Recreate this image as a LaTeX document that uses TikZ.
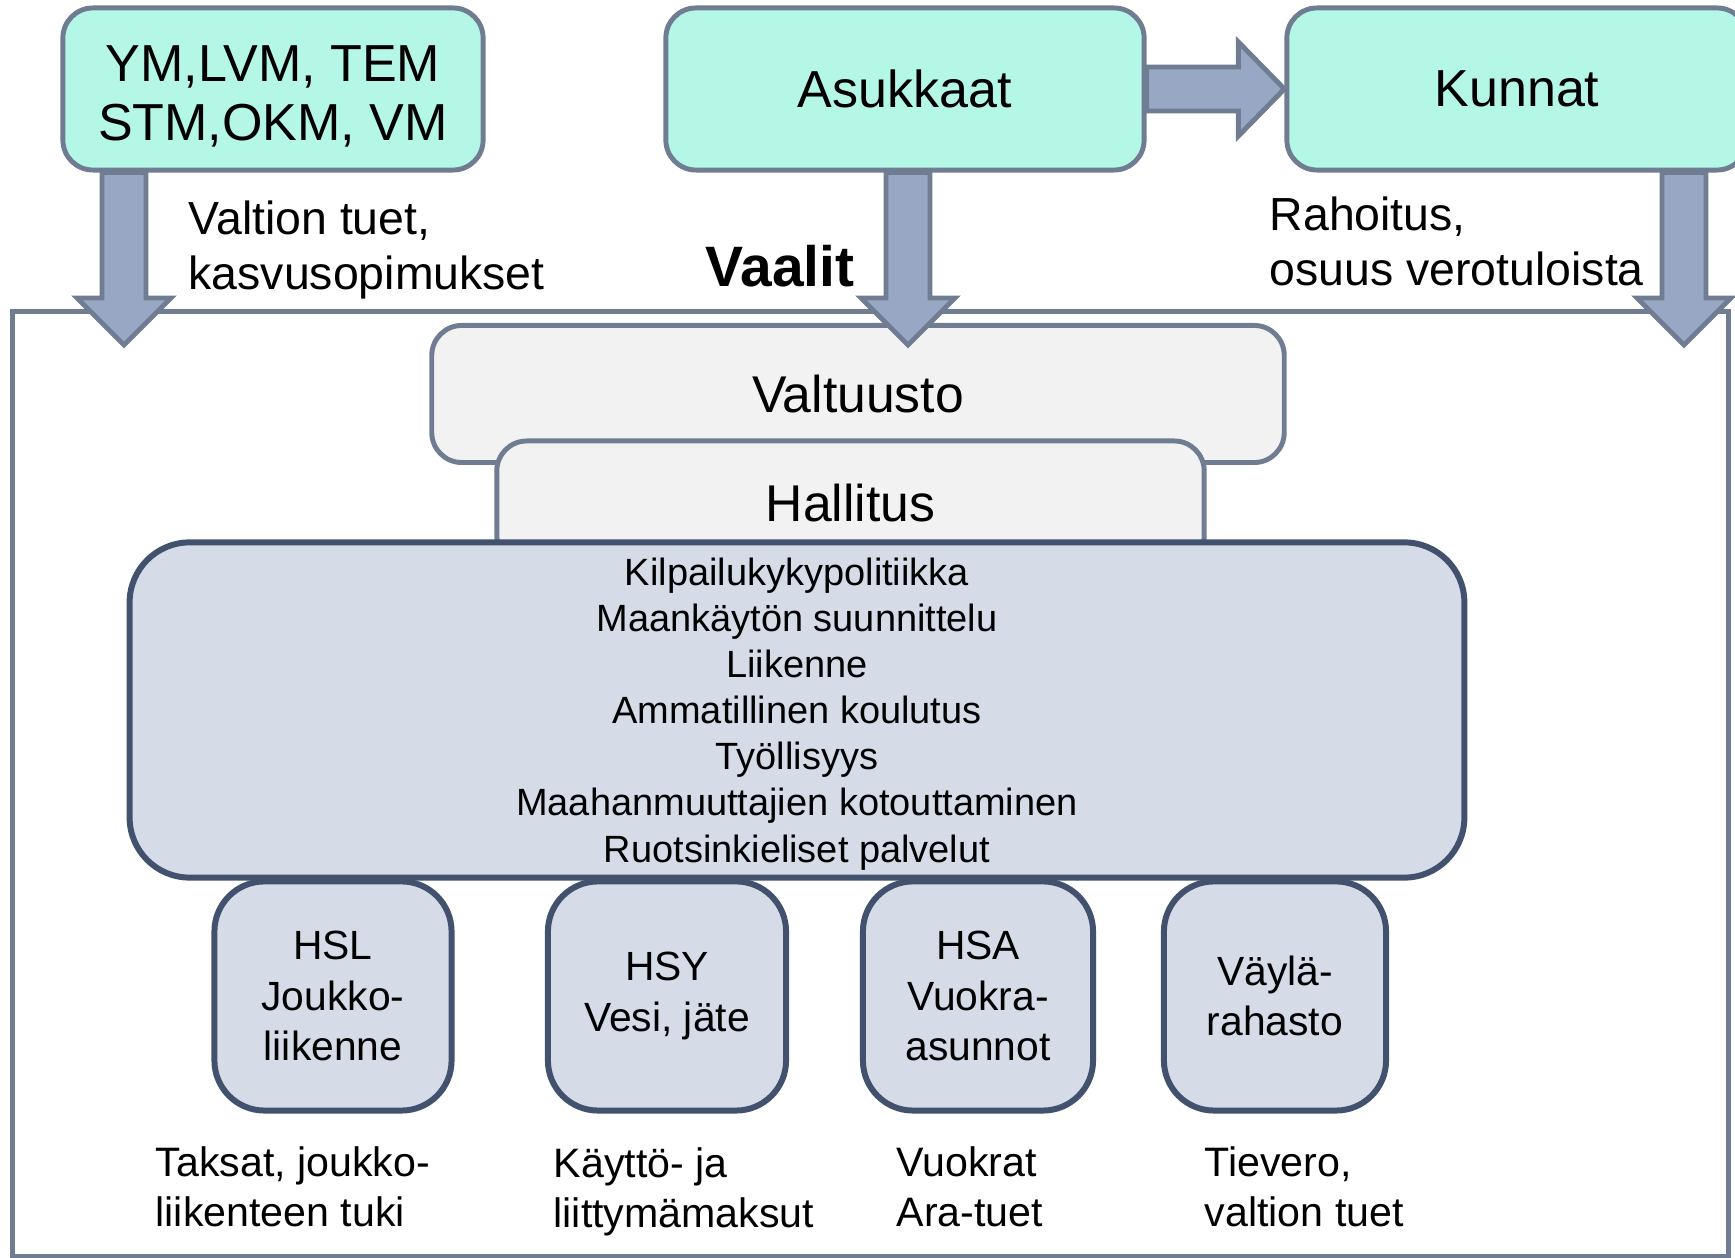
\documentclass[tikz,border=0pt]{standalone}
\usepackage{fontspec}
\setmainfont{Liberation Sans}
\usepackage{tikz}
\usetikzlibrary{calc}
\usetikzlibrary{positioning}
\definecolor{minttu}{RGB}{181,247,231}
\definecolor{rajaharmaa}{RGB}{111,124,145}
\definecolor{nuolisini}{RGB}{152,168,196}
\definecolor{vaaleaharmaa}{RGB}{242,242,242}
\definecolor{laatikkosini}{RGB}{213,220,232}
\definecolor{tummaraja}{RGB}{66,82,110}
\newcommand\nuolialas[2]{% start, tip
  ($(#1)+(-22,0)$) -- ($(#1)+(22,0)$) -- ($(#2)+(22,-47)$) -- ($(#2)+(47,-47)$)
  -- (#2) -- ($(#2)+(-47,-47)$) -- ($(#2)+(-22,-47)$) -- cycle
}
\newcommand\nuolioikealle[2]{% start, tip
  ($(#1)+(0,-22)$) -- ($(#2)+(-46,-22)$) -- ($(#2)+(-46,-47)$)
  -- (#2) -- ($(#2)+(-46,47)$) -- ($(#2)+(-46,22)$) -- ($(#1)+(0,22)$) -- cycle
}
\tikzset{
    % Define top boxes
    ylaboksi/.style={
           draw=rajaharmaa,
           line width=1.4pt,
           fill=minttu,
           rounded corners=0.3cm,
           align=center,
           inner sep=0pt,
           font=\fontsize{14.8}{16.8}\selectfont,},
    % Define council boxes
    harmaaboksi/.style={
           draw=rajaharmaa,
           line width=1.4pt,
           fill=vaaleaharmaa,
           rounded corners=0.3cm,
           inner sep=0pt,
           font=\fontsize{14.7}{17}\selectfont,},
    % Define blue boxes
    siniboksi/.style={
           draw=tummaraja,
           line width=1.7pt,
           fill=laatikkosini,
           rounded corners=0.5cm,
           align=center,
           inner sep=0pt,},
    pieniboksi/.style={
           siniboksi,
           minimum height=2.29cm,
           font=\fontsize{11.6}{14.3}\selectfont,},
    % Define block arrow
    nuoli/.style={
           draw=rajaharmaa,
           line width=1.4pt,
           fill=nuolisini,
           line join=miter,},
    teksti/.style={
           align=left,
           inner sep=0pt,
           anchor=west,}
}
\begin{document}
\begin{tikzpicture}[x=0.01cm,y=-0.01cm]
  \useasboundingbox (0,0) rectangle (1735,1258);
  \node[draw=rajaharmaa, line width=1.3pt, minimum width=17.15cm, minimum height=9.44cm, inner sep=0pt] (alue) at (870.5,784) {};
  \node[harmaaboksi, minimum width=8.52cm, minimum height=1.37cm] (valt) at (858,394) {Valtuusto};
  \node[harmaaboksi, minimum width=7.07cm, minimum height=1.24cm] (hall) at (850.5,503) {Hallitus};
  \node[siniboksi, rounded corners=0.6cm, minimum width=13.34cm, minimum height=3.35cm] (teht) at (797,710) {};
  \node[align=center, inner sep=0pt, font=\fontsize{10.8}{13.1}\selectfont] (tehtlista) at ($(teht.center)+(0,4)$)
        {Kilpailukykypolitiikka\\Maankäytön suunnittelu\\Liikenne\\Ammatillinen koulutus\\Työllisyys\\Maahanmuuttajien kotouttaminen\\Ruotsinkieliset palvelut};
  \node[pieniboksi, minimum width=2.37cm] (hsl) at (333,996) {HSL\\Joukko-\\liikenne};
  \node[pieniboksi, minimum width=2.38cm] (hsy) at (667,996) {HSY\\Vesi, jäte};
  \node[pieniboksi, minimum width=2.30cm] (hsa) at (978,996) {HSA\\Vuokra-\\asunnot};
  \node[pieniboksi, minimum width=2.22cm] (vayla) at (1275,996) {Väylä-\\rahasto};
  \node[teksti, font=\fontsize{11.7}{14.2}\selectfont] (hsltulo) at (155,1187) {Taksat, joukko-\\liikenteen tuki};
  \node[teksti, font=\fontsize{11.7}{14.2}\selectfont] (hsytulo) at (553,1191.5) {Käyttö- ja\\liittymämaksut};
  \node[teksti, font=\fontsize{11.7}{14.2}\selectfont] (hsatulo) at (896,1187) {Vuokrat\\Ara-tuet};
  \node[teksti, font=\fontsize{11.7}{14.2}\selectfont] (vaylatulo) at (1204,1187) {Tievero,\\valtion tuet};
  \node[ylaboksi, minimum width=4.2cm, minimum height=1.62cm] (ym) at (273,89) {};
  \node[align=center, inner sep=0pt, font=\fontsize{14.8}{16.8}\selectfont] (ymteksti) at ($(ym.center)+(0,7)$) {YM,LVM, TEM\\STM,OKM, VM};
  \node[ylaboksi, minimum width=4.78cm, minimum height=1.62cm] (asuk) at (905,89) {Asukkaat};
  \node[ylaboksi, minimum width=4.6cm, minimum height=1.62cm] (kunnat) at (1517,89) {Kunnat};
  \node[teksti, font=\fontsize{13.2}{15.6}\selectfont] (tuet) at (188,250) {Valtion tuet,\\kasvusopimukset};
  \node[teksti, font=\fontsize{13.2}{15.6}\selectfont] (rahoitus) at (1269,241) {Rahoitus,\\osuus verotuloista};
  \node[inner sep=0pt, font=\bfseries\fontsize{16.2}{19}\selectfont] (vaalit) at (780,266) {Vaalit};
  \coordinate (ymkarki) at (124,345);
  \coordinate (asukkarki) at (908,345);
  \coordinate (kunkarki) at (1684,345);
  \coordinate (ymalku) at (ym.south -| ymkarki);
  \coordinate (asukalku) at (asuk.south -| asukkarki);
  \coordinate (kunalku) at (kunnat.south -| kunkarki);
  \draw[nuoli] \nuolialas{ymalku}{ymkarki};
  \draw[nuoli] \nuolialas{asukalku}{asukkarki};
  \draw[nuoli] \nuolialas{kunalku}{kunkarki};
  \draw[nuoli] \nuolioikealle{asuk.east}{kunnat.west};
\end{tikzpicture}
\end{document}
